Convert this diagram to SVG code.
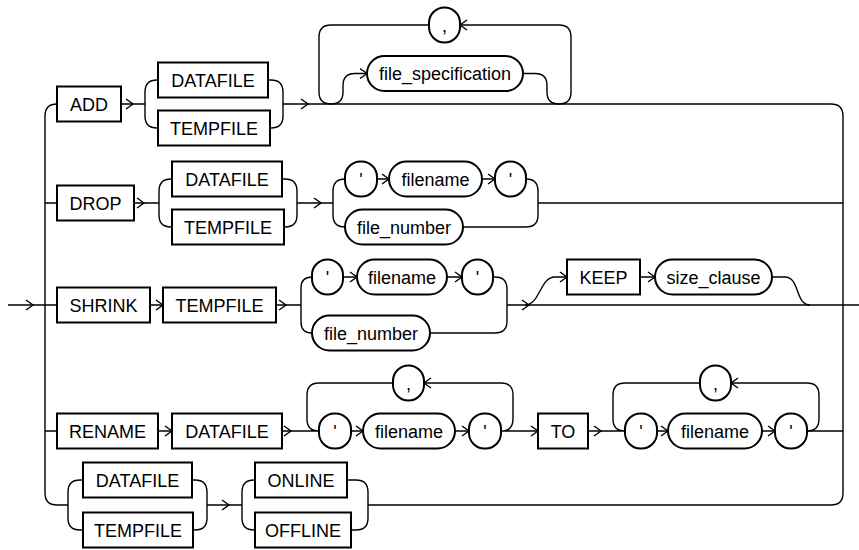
<svg xmlns="http://www.w3.org/2000/svg" xmlns:xlink="http://www.w3.org/1999/xlink" width="859" height="550" viewBox="0 0 859 550">
<style>
.k{fill:#fff;stroke:#000;stroke-width:2}
.l{fill:none;stroke:#000;stroke-width:1.4}
text{font-family:"Liberation Sans",Arial,sans-serif;font-size:18px;text-anchor:middle;fill:#000}
</style>
<defs>
<path id="a" d="M-7,-5 L0,0 L-7,5" class="l"/>
<path id="b" d="M7,-5 L0,0 L7,5" class="l"/>
</defs>
<rect width="859" height="550" fill="#fff"/>
<g id="connectors">
<path class="l" d="M8,305 H45 M57,104 Q45,104 45,116 V493 Q45,505 57,505 H68 M45,203 H57 M45,305 H57 M45,431 H57"/>
<path class="l" d="M283,104 H831 Q843,104 843,116 V493 Q843,505 831,505 H368 M538,203 H843 M507,305 H859 M807,431 H843"/>
<path class="l" d="M121,104 H145 M145,104 V92 Q145,80 157,80 H158 M145,104 V116 Q145,128 157,128 H158 M268,80 H271 Q283,80 283,92 V116 Q283,128 271,128 H270"/>
<path class="l" d="M319,37 V92 Q319,104 331,104 Q343,104 343,92 V85.5 Q343,73.5 355,73.5 H367 M523,73.5 H535 Q547,73.5 547,85.5 V92 Q547,104 559,104 Q571,104 571,92 V37 Q571,25 559,25 H460 M429,25 H331 Q319,25 319,37"/>
<path class="l" d="M134,203 H159 M159,203 V191 Q159,179 171,179 H172 M159,203 V215 Q159,227 171,227 H172 M282,179 H285 Q297,179 297,191 V215 Q297,227 285,227 H284 M297,203 H333 M333,203 V191 Q333,179 345,179 M333,203 V215 Q333,227 345,227 M377,179 H389 M482,179 H495 M526,179 Q538,179 538,191 V215 Q538,227 526,227 H463"/>
<path class="l" d="M150,305 H163 M276,305 H301 M301,305 V288 Q301,277 312,277 M301,305 V322 Q301,333 312,333 M343,277 H357 M447,277 H462 M493,277 H495 Q507,277 507,289 V321 Q507,333 495,333 H430 M525,305 C540,305 540,277 555,277 H567 M640,277 H655 M772,277 H785 C800,277 795,305 810,305"/>
<path class="l" d="M158,431 H172 M282,431 H319 M307,419 V395 Q307,383 319,383 H393 M424,383 H501 Q513,383 513,395 V419 Q513,431 501,431 M307,419 Q307,431 319,431 M351,431 H363 M455,431 H469 M501,431 H538 M588,431 H625 M613,419 V395 Q613,383 625,383 H700 M731,383 H807 Q819,383 819,395 V419 Q819,431 807,431 M613,419 Q613,431 625,431 M657,431 H668 M762,431 H775"/>
<path class="l" d="M68,505 V492 Q68,480 80,480 H83 M68,505 V518 Q68,530 80,530 H83 M192,480 H195 Q207,480 207,492 V518 Q207,530 195,530 H193 M207,505 H242 M242,505 V492 Q242,480 254,480 H255 M242,505 V518 Q242,530 254,530 H255 M347,480 H356 Q368,480 368,492 V518 Q368,530 356,530 H351"/>
<use xlink:href="#a" x="33" y="305"/>
<use xlink:href="#a" x="133" y="104"/>
<use xlink:href="#a" x="308" y="104"/>
<use xlink:href="#a" x="367" y="73.5"/>
<use xlink:href="#b" x="460" y="25"/>
<use xlink:href="#a" x="144" y="203"/>
<use xlink:href="#a" x="321" y="203"/>
<use xlink:href="#a" x="389" y="179"/>
<use xlink:href="#a" x="495" y="179"/>
<use xlink:href="#a" x="163" y="305"/>
<use xlink:href="#a" x="286" y="305"/>
<use xlink:href="#a" x="357" y="277"/>
<use xlink:href="#a" x="462" y="277"/>
<use xlink:href="#a" x="529" y="305"/>
<use xlink:href="#a" x="567" y="277"/>
<use xlink:href="#a" x="655" y="277"/>
<use xlink:href="#a" x="172" y="431"/>
<use xlink:href="#a" x="291" y="431"/>
<use xlink:href="#a" x="363" y="431"/>
<use xlink:href="#a" x="469" y="431"/>
<use xlink:href="#b" x="424" y="383"/>
<use xlink:href="#a" x="538" y="431"/>
<use xlink:href="#a" x="601" y="431"/>
<use xlink:href="#a" x="668" y="431"/>
<use xlink:href="#a" x="775" y="431"/>
<use xlink:href="#b" x="731" y="383"/>
<use xlink:href="#a" x="229" y="505"/>
</g>
<g id="n_add"><rect class="k" x="57" y="86.5" width="64" height="35"/><text x="89" y="110.5">ADD</text></g>
<g id="n_add_datafile"><rect class="k" x="158" y="62.5" width="110" height="35"/><text x="213" y="86.5">DATAFILE</text></g>
<g id="n_add_tempfile"><rect class="k" x="158" y="110.5" width="112" height="35"/><text x="214" y="134.5">TEMPFILE</text></g>
<g id="n_file_spec"><rect class="k" x="367" y="56" width="156" height="35" rx="17.5"/><text x="445" y="80">file_specification</text></g>
<g id="n_add_comma"><rect class="k" x="429" y="7.5" width="31" height="35" rx="15.5"/><text x="444.5" y="31.5">,</text></g>
<g id="n_drop"><rect class="k" x="57" y="185.5" width="77" height="35"/><text x="95.5" y="209.5">DROP</text></g>
<g id="n_drop_datafile"><rect class="k" x="172" y="161.5" width="110" height="35"/><text x="227" y="185.5">DATAFILE</text></g>
<g id="n_drop_tempfile"><rect class="k" x="172" y="209.5" width="112" height="35"/><text x="228" y="233.5">TEMPFILE</text></g>
<g id="n_drop_q1"><rect class="k" x="345" y="161.5" width="32" height="35" rx="15.5"/><text x="361" y="185.5">'</text></g>
<g id="n_drop_filename"><rect class="k" x="389" y="161.5" width="93" height="35" rx="17.5"/><text x="435.5" y="185.5">filename</text></g>
<g id="n_drop_q2"><rect class="k" x="495" y="161.5" width="31" height="35" rx="15.5"/><text x="510.5" y="185.5">'</text></g>
<g id="n_drop_file_number"><rect class="k" x="345" y="209.5" width="118" height="35" rx="17.5"/><text x="404" y="233.5">file_number</text></g>
<g id="n_shrink"><rect class="k" x="57" y="287.5" width="93" height="35"/><text x="103.5" y="311.5">SHRINK</text></g>
<g id="n_shrink_tempfile"><rect class="k" x="163" y="287.5" width="113" height="35"/><text x="219.5" y="311.5">TEMPFILE</text></g>
<g id="n_shrink_q1"><rect class="k" x="312" y="259.5" width="31" height="35" rx="15.5"/><text x="327.5" y="283.5">'</text></g>
<g id="n_shrink_filename"><rect class="k" x="357" y="259.5" width="90" height="35" rx="17.5"/><text x="402" y="283.5">filename</text></g>
<g id="n_shrink_q2"><rect class="k" x="462" y="259.5" width="31" height="35" rx="15.5"/><text x="477.5" y="283.5">'</text></g>
<g id="n_shrink_file_number"><rect class="k" x="312" y="315.5" width="118" height="35" rx="17.5"/><text x="371" y="339.5">file_number</text></g>
<g id="n_keep"><rect class="k" x="567" y="259.5" width="73" height="35"/><text x="603.5" y="283.5">KEEP</text></g>
<g id="n_size_clause"><rect class="k" x="655" y="259.5" width="117" height="35" rx="17.5"/><text x="713.5" y="283.5">size_clause</text></g>
<g id="n_rename"><rect class="k" x="57" y="413.5" width="101" height="35"/><text x="107.5" y="437.5">RENAME</text></g>
<g id="n_rename_datafile"><rect class="k" x="172" y="413.5" width="110" height="35"/><text x="227" y="437.5">DATAFILE</text></g>
<g id="n_ren_q1"><rect class="k" x="319" y="413.5" width="32" height="35" rx="15.5"/><text x="335" y="437.5">'</text></g>
<g id="n_ren_filename1"><rect class="k" x="363" y="413.5" width="92" height="35" rx="17.5"/><text x="409" y="437.5">filename</text></g>
<g id="n_ren_q2"><rect class="k" x="469" y="413.5" width="32" height="35" rx="15.5"/><text x="485" y="437.5">'</text></g>
<g id="n_ren_comma1"><rect class="k" x="393" y="365.5" width="31" height="35" rx="15.5"/><text x="408.5" y="389.5">,</text></g>
<g id="n_to"><rect class="k" x="538" y="413.5" width="50" height="35"/><text x="563" y="437.5">TO</text></g>
<g id="n_ren_q3"><rect class="k" x="625" y="413.5" width="32" height="35" rx="15.5"/><text x="641" y="437.5">'</text></g>
<g id="n_ren_filename2"><rect class="k" x="668" y="413.5" width="94" height="35" rx="17.5"/><text x="715" y="437.5">filename</text></g>
<g id="n_ren_q4"><rect class="k" x="775" y="413.5" width="32" height="35" rx="15.5"/><text x="791" y="437.5">'</text></g>
<g id="n_ren_comma2"><rect class="k" x="700" y="365.5" width="31" height="35" rx="15.5"/><text x="715.5" y="389.5">,</text></g>
<g id="n_bot_datafile"><rect class="k" x="83" y="462.5" width="109" height="35"/><text x="137.5" y="486.5">DATAFILE</text></g>
<g id="n_bot_tempfile"><rect class="k" x="83" y="512.5" width="110" height="35"/><text x="138" y="536.5">TEMPFILE</text></g>
<g id="n_online"><rect class="k" x="255" y="462.5" width="92" height="35"/><text x="301" y="486.5">ONLINE</text></g>
<g id="n_offline"><rect class="k" x="255" y="512.5" width="96" height="35"/><text x="303" y="536.5">OFFLINE</text></g>
</svg>
